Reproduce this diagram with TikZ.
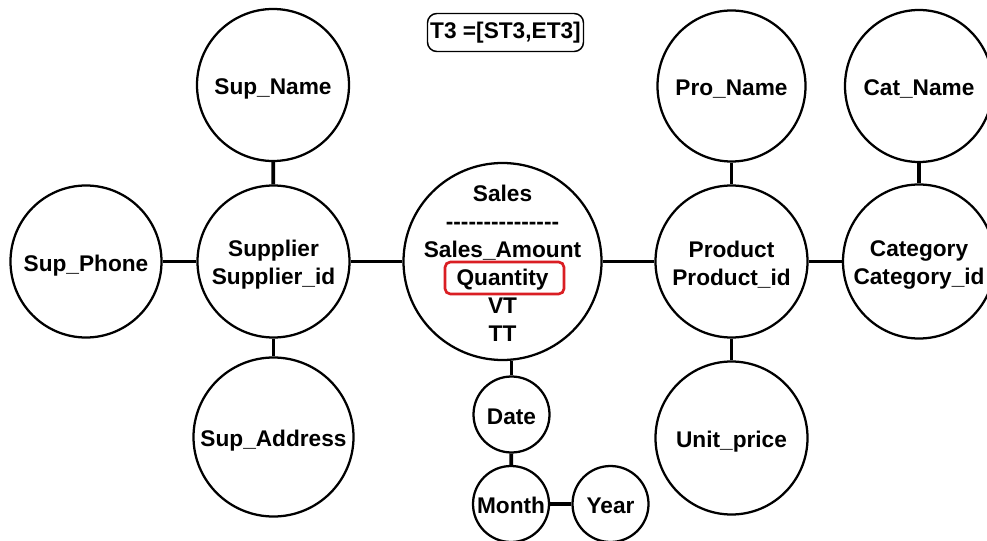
\documentclass[tikz,border=0pt]{standalone}
\usepackage{fontspec}
\setmainfont{Liberation Sans}
\usetikzlibrary{shapes.geometric}
\definecolor{qred}{RGB}{218,30,35}
\newcommand\dashline{-{}-{}-{}-{}-{}-{}-{}-{}-{}-{}-{}-{}-{}-{}-}
\begin{document}
\begin{tikzpicture}[x=0.75pt,y=-0.75pt,
  lbl/.style={font=\bfseries\fontsize{17pt}{21pt}\selectfont},
  one/.style={lbl, inner sep=0pt, text height=12.2pt, text depth=0pt, yshift=-1.5*0.75pt},
  multi/.style={lbl, inner sep=0pt, align=center, yshift=-3*0.75pt},
  ent/.style 2 args={ellipse, draw, line width=1.7pt, inner sep=0pt,
     minimum width=#1*0.75pt, minimum height=#2*0.75pt},
  conn/.style={line width=2.8pt}]
\useasboundingbox (0,0) rectangle (987,541);
\clip (0,0) rectangle (987,541);
\fill[white] (0,0) rectangle (987,541);

\node[ent={152}{152}, label={[one]center:Sup\_Name}] (supname) at (273,85) {};
\node[ent={152}{152}, label={[multi]center:Supplier\\Supplier\_id}] (supplier) at (273.5,261.5) {};
\node[ent={151}{152}, label={[one]center:Sup\_Phone}] (supphone) at (86,261.5) {};
\node[ent={160}{159}, label={[one]center:Sup\_Address}] (supaddr) at (273.5,437) {};
\node[ent={198}{197}, label={[multi, yshift=1.5*0.75pt]center:Sales\\\dashline\\Sales\_Amount\\Quantity\\VT\\TT}] (sales) at (502.5,261.5) {};
\node[ent={76}{76}, label={[one]center:Date}] (date) at (511.5,414.5) {};
\node[ent={76}{76}, label={[one]center:Month}] (month) at (511,504) {};
\node[ent={76}{76}, label={[one]center:Year}] (year) at (610.5,504) {};
\node[ent={148}{151}, label={[one]center:Pro\_Name}] (proname) at (731.5,86) {};
\node[ent={152}{152}, label={[multi]center:Product\\Product\_id}] (product) at (731.5,261.5) {};
\node[ent={152}{153}, label={[one]center:Unit\_price}] (unitprice) at (731.5,438) {};
\node[ent={148}{152}, label={[one]center:Cat\_Name}] (catname) at (919,86) {};
\node[ent={152}{154}, label={[multi]center:Category\\Category\_id}] (category) at (919,261.5) {};

\node[draw=qred, line width=2pt, rounded corners=4pt, minimum width=119*0.75pt, minimum height=32*0.75pt] (qbox) at (504.5,278) {};
\node[draw, line width=1.1pt, rounded corners=7pt, inner sep=0pt, minimum width=156*0.75pt, minimum height=38*0.75pt, lbl] (t3) at (505.5,32.5) {T3 =[ST3,ET3]};

\draw[conn] (supphone) -- (supplier);
\draw[conn] (supplier) -- (sales);
\draw[conn] (sales) -- (product);
\draw[conn] (product) -- (category);
\draw[conn] (supname) -- (supplier);
\draw[conn] (supplier) -- (supaddr);
\draw[conn] (proname) -- (product);
\draw[conn] (product) -- (unitprice);
\draw[conn] (catname) -- (category);
\draw[conn] (date.north) -- (date.north |- sales.south);
\draw[conn] (date) -- (month);
\draw[conn] (month) -- (year);
\end{tikzpicture}
\end{document}
